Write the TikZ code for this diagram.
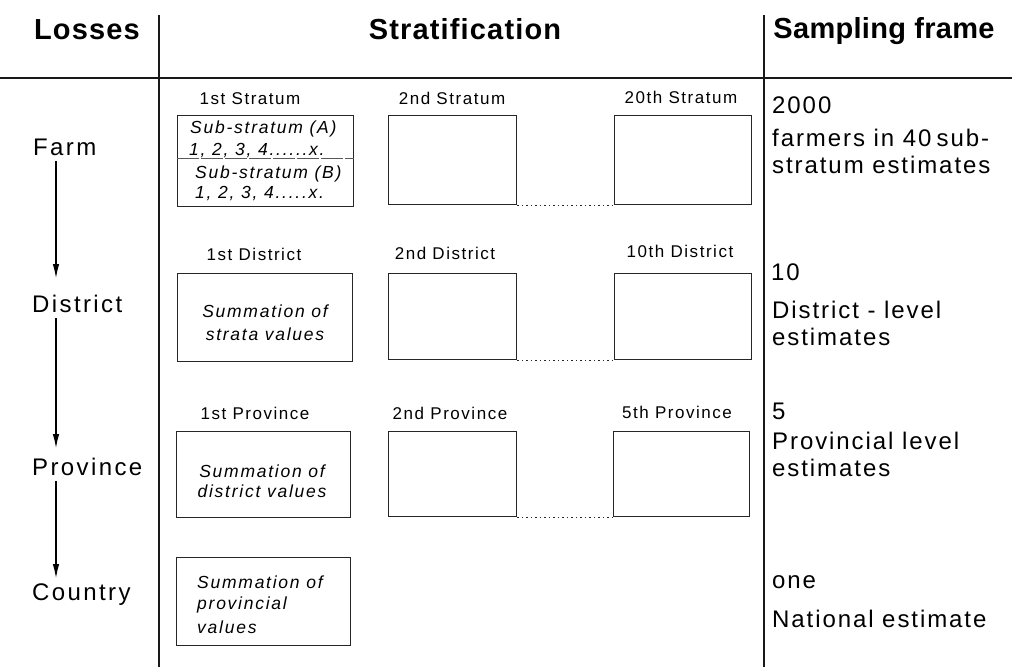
\documentclass[tikz,border=0pt]{standalone}
\usepackage{fontspec}
\setmainfont{Liberation Sans}
\newfontfamily\hdrfont[LetterSpace=4]{Liberation Sans}
\newfontfamily\hdrtight[LetterSpace=1]{Liberation Sans}
\newfontfamily\lblfont[LetterSpace=10]{Liberation Sans}
\newfontfamily\frmfont[LetterSpace=8]{Liberation Sans}
\newfontfamily\capfont[LetterSpace=9]{Liberation Sans}
\newfontfamily\itfont[LetterSpace=10]{Liberation Sans}
\usetikzlibrary{arrows.meta,calc}
\begin{document}
\begin{tikzpicture}[x=1pt,y=-1pt,
  rule/.style={line width=1.5pt, draw=black!90},
  divider/.style={line width=1.3pt, draw=black!90},
  hdr/.style={font=\hdrfont\bfseries\fontsize{29}{33}\selectfont, anchor=base, inner sep=0pt},
  lvl/.style={font=\lblfont\fontsize{24}{28}\selectfont, anchor=base west, inner sep=0pt},
  frm/.style={font=\frmfont\fontsize{24}{28}\selectfont, anchor=base west, inner sep=0pt},
  colcap/.style={font=\capfont\fontsize{17}{20}\selectfont, anchor=base, inner sep=0pt},
  itl/.style={font=\itfont\itshape\fontsize{17.5}{20}\selectfont, anchor=base west, inner sep=0pt},
  itc/.style={itl, anchor=base},
  box/.style={draw=black!85, line width=1.3pt, anchor=north west, inner sep=0pt},
  dots/.style={draw=black!85, line width=1.4pt, dash pattern=on 1.5pt off 3pt},
  subline/.style={draw=black!65, line width=0.9pt, dash pattern=on 22pt off 2pt},
  arr/.style={line width=1.8pt, -{Latex[length=15pt,width=6.5pt]}},
]
\useasboundingbox (0,0) rectangle (1012,667);
\fill[white] (0,0) rectangle (1012,667);

% rules
\coordinate (hl) at (0,78);
\coordinate (hr) at (1012,78);
\draw[rule] (hl) -- (hr);
\coordinate (v1t) at (159,15);
\coordinate (v1b) at (159,667);
\draw[divider] (v1t) -- (v1b);
\coordinate (v2t) at (764,15);
\coordinate (v2b) at (764,667);
\draw[divider] (v2t) -- (v2b);

% headers
\node[hdr] (hlosses) at (87,39) {Losses};
\node[hdr] (hstrat) at (465,39) {Stratification};
\node[hdr, font=\hdrtight\bfseries\fontsize{29}{33}\selectfont] (hframe) at (884,38) {Sampling frame};

% left column
\node[lvl] (farm) at (33,155) {Farm};
\node[lvl] (district) at (32,312) {District};
\node[lvl] (province) at (32,475) {Province};
\node[lvl] (country) at (32,600) {Country};
\draw[arr] ($(farm.base west)+(23,6)$) -- ($(district.base west)+(24,-33)$);
\draw[arr] ($(district.base west)+(24,6)$) -- ($(province.base west)+(24,-26)$);
\draw[arr] ($(province.base west)+(24,6)$) -- ($(country.base west)+(24,-21)$);

% row 1
\node[colcap] (c1s) at (250,104) {1st Stratum};
\node[colcap] (c2s) at (452,104) {2nd Stratum};
\node[colcap] (c20s) at (681,103) {20th Stratum};
\node[box, minimum width=176pt, minimum height=91pt] (s1) at (177,115) {};
\node[box, minimum width=128pt, minimum height=89pt] (s2) at (388,115) {};
\node[box, minimum width=137pt, minimum height=89pt] (s20) at (614,115) {};
\coordinate (smid) at (0,158);
\draw[subline] (s1.west |- smid) -- (s1.east |- smid);
\draw[dots] (s2.south east) -- (s20.south west);
\node[itl] (sa1) at (190,133) {Sub-stratum (A)};
\node[itl] (sa2) at (189,155) {1, 2, 3, 4......x.};
\node[itl] (sb1) at (195,178) {Sub-stratum (B)};
\node[itl] (sb2) at (195,198) {1, 2, 3, 4.....x.};

% row 2
\node[colcap] (c1d) at (254,260) {1st District};
\node[colcap] (c2d) at (445,259) {2nd District};
\node[colcap] (c10d) at (680,257) {10th District};
\node[box, minimum width=175pt, minimum height=88pt] (d1) at (177,273) {};
\node[box, minimum width=128pt, minimum height=86pt] (d2) at (388,273) {};
\node[box, minimum width=137pt, minimum height=86pt] (d10) at (614,273) {};
\draw[dots] (d2.south east) -- (d10.south west);
\node[itc] (d1a) at (265,317) {Summation of};
\node[itc] (d1b) at (265,340) {strata values};

% row 3
\node[colcap] (c1p) at (255,419) {1st Province};
\node[colcap] (c2p) at (450,419) {2nd Province};
\node[colcap] (c5p) at (677,418) {5th Province};
\node[box, minimum width=174pt, minimum height=86pt] (p1) at (176,431) {};
\node[box, minimum width=128pt, minimum height=85pt] (p2) at (388,431) {};
\node[box, minimum width=136pt, minimum height=85pt] (p5) at (613,431) {};
\draw[dots] (p2.south east) -- (p5.south west);
\node[itc] (p1a) at (262,477) {Summation of};
\node[itc] (p1b) at (262,497) {district values};

% row 4
\node[box, minimum width=174pt, minimum height=88pt] (n1) at (176,557) {};
\node[itl] (n1a) at (197,588) {Summation of};
\node[itl] (n1b) at (197,609) {provincial};
\node[itl] (n1c) at (197,633) {values};

% right column
\node[frm] (f1) at (772,113) {2000};
\node[frm] (f2) at (772,146) {farmers in 40\hspace{0.22em}sub-};
\node[frm] (f3) at (772,173) {stratum estimates};
\node[frm] (g1) at (771,280) {10};
\node[frm] (g2) at (772,318) {District - level};
\node[frm] (g3) at (772,345) {estimates};
\node[frm] (h1) at (772,419) {5};
\node[frm] (h2) at (772,449) {Provincial level};
\node[frm] (h3) at (772,476) {estimates};
\node[frm] (k1) at (772,588) {one};
\node[frm] (k2) at (772,627) {National estimate};
\end{tikzpicture}
\end{document}
